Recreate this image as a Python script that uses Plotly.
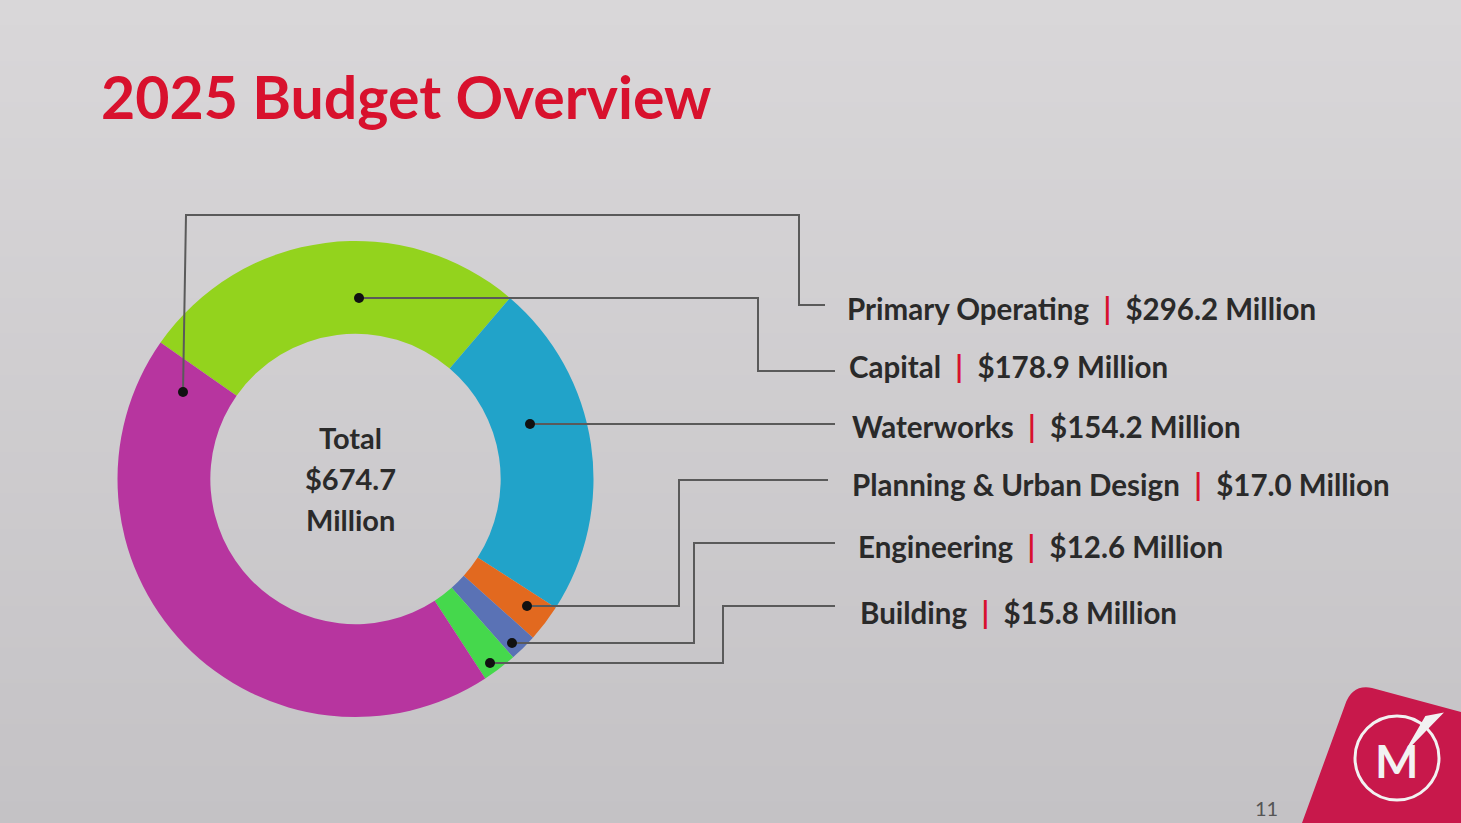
import plotly.graph_objects as go

W, H = 1461, 823

# ---- data ----
categories = ["Capital", "Waterworks", "Planning & Urban Design", "Engineering", "Building", "Primary Operating"]
values = [178.9, 154.2, 17.0, 12.6, 15.8, 296.2]
colors = ["#93d31d", "#21a3c9", "#e2691f", "#5a72b5", "#45d84c", "#b7359f"]
label_order = ["Primary Operating", "Capital", "Waterworks", "Planning & Urban Design", "Engineering", "Building"]
title_text = "2025 Budget Overview"
page_number = "11"

def px(x):
    return x / W

def py(y):
    return 1 - y / H

RED = "#d8112d"
TEXT = "#2a2a2a"
FONT = "Lato"

cx, cy, r = 355.5, 479, 238

fig = go.Figure()
fig.add_trace(go.Pie(
    labels=categories, values=values, sort=False, direction="clockwise",
    rotation=-55, hole=0.61, textinfo="none", hoverinfo="label+value",
    marker=dict(colors=colors, line=dict(width=0)),
    domain=dict(x=[px(cx - r), px(cx + r)], y=[py(cy + r), py(cy - r)]),
    showlegend=False,
))

total = sum(values)
annotations = []
annotations.append(dict(text=f"<b>{title_text}</b>", x=px(99), y=py(97), xref="paper", yref="paper",
                        xanchor="left", yanchor="middle", showarrow=False,
                        font=dict(family=FONT, size=59, color=RED)))
for txt, yy in [("Total", 437), (f"${total:.1f}", 478), ("Million", 519)]:
    annotations.append(dict(text=f"<b>{txt}</b>", x=px(cx - 5), y=py(yy), xref="paper", yref="paper",
                            xanchor="center", yanchor="middle", showarrow=False,
                            font=dict(family=FONT, size=29, color=TEXT)))

label_pos = {
    "Primary Operating": (845, 308),
    "Capital": (847, 366),
    "Waterworks": (850, 426),
    "Planning & Urban Design": (850, 484),
    "Engineering": (856, 546),
    "Building": (858, 612),
}
for name in label_order:
    v = values[categories.index(name)]
    lx, ly = label_pos[name]
    annotations.append(dict(
        text=f"<b>{name}&nbsp;&nbsp;<span style='color:{RED}'>|</span>&nbsp;&nbsp;${v:.1f} Million</b>",
        x=px(lx), y=py(ly), xref="paper", yref="paper", xanchor="left", yanchor="middle",
        showarrow=False, font=dict(family=FONT, size=29.5, color=TEXT)))

annotations.append(dict(text=page_number, x=px(1266), y=py(808), xref="paper", yref="paper",
                        xanchor="center", yanchor="middle", showarrow=False,
                        font=dict(family=FONT, size=20, color="#555555")))
annotations.append(dict(text="<b>M</b>", x=px(1396), y=py(760), xref="paper", yref="paper",
                        xanchor="center", yanchor="middle", showarrow=False,
                        font=dict(family=FONT, size=46, color="#f2f2f2")))

# leader lines (pixel geometry)
leaders = {
    "Primary Operating": [(183, 392), (186, 215), (799, 215), (799, 305), (825, 305)],
    "Capital": [(359, 298), (758, 298), (758, 371), (835, 371)],
    "Waterworks": [(530, 424), (835, 424)],
    "Planning & Urban Design": [(527, 606), (679, 606), (679, 480), (828, 480)],
    "Engineering": [(512, 643), (694, 643), (694, 543), (835, 543)],
    "Building": [(490, 663), (723, 663), (723, 606), (835, 606)],
}
shapes = []
# background gradient
n = 160
for i in range(n):
    t = i / (n - 1)
    rr = 217 - 21 * t
    gg = 215 - 21 * t
    bb = 217 - 20 * t
    shapes.append(dict(type="rect", xref="paper", yref="paper", x0=0, x1=1,
                       y0=1 - (i + 1) / n, y1=1 - i / n + 0.001,
                       fillcolor=f"rgb({rr:.1f},{gg:.1f},{bb:.1f})", line=dict(width=0), layer="below"))
# logo
shapes.append(dict(type="path", xref="paper", yref="paper",
                   path=f"M {px(1302)} {py(823)} L {px(1345)} {py(705)} Q {px(1352)} {py(684)} {px(1372)} {py(688)} "
                        f"L {px(1461)} {py(712)} L {px(1461)} {py(823)} Z",
                   fillcolor="#c8184b", line=dict(width=0), layer="below"))
shapes.append(dict(type="circle", xref="paper", yref="paper",
                   x0=px(1355), x1=px(1439), y0=py(800), y1=py(716),
                   line=dict(color="#f2f2f2", width=3), fillcolor="rgba(0,0,0,0)"))
shapes.append(dict(type="path", xref="paper", yref="paper",
                   path=f"M {px(1408)} {py(748)} L {px(1441)} {py(714)} L {px(1426)} {py(717)} Z",
                   fillcolor="#f2f2f2", line=dict(color="#f2f2f2", width=2)))

for name, pts in leaders.items():
    path = "M " + " L ".join(f"{px(x)} {py(y)}" for x, y in pts)
    shapes.append(dict(type="path", xref="paper", yref="paper", path=path,
                       line=dict(color="#5a5a5a", width=2)))
    x0, y0 = pts[0]
    shapes.append(dict(type="circle", xref="paper", yref="paper",
                       x0=px(x0 - 5), x1=px(x0 + 5), y0=py(y0 + 5), y1=py(y0 - 5),
                       fillcolor="#111111", line=dict(width=0)))

fig.update_layout(
    width=W, height=H, margin=dict(l=0, r=0, t=0, b=0),
    paper_bgcolor="#d9d8d8", plot_bgcolor="#d9d8d8",
    annotations=annotations, shapes=shapes,
)
fig.write_html("out.html", config={"displayModeBar": False})
